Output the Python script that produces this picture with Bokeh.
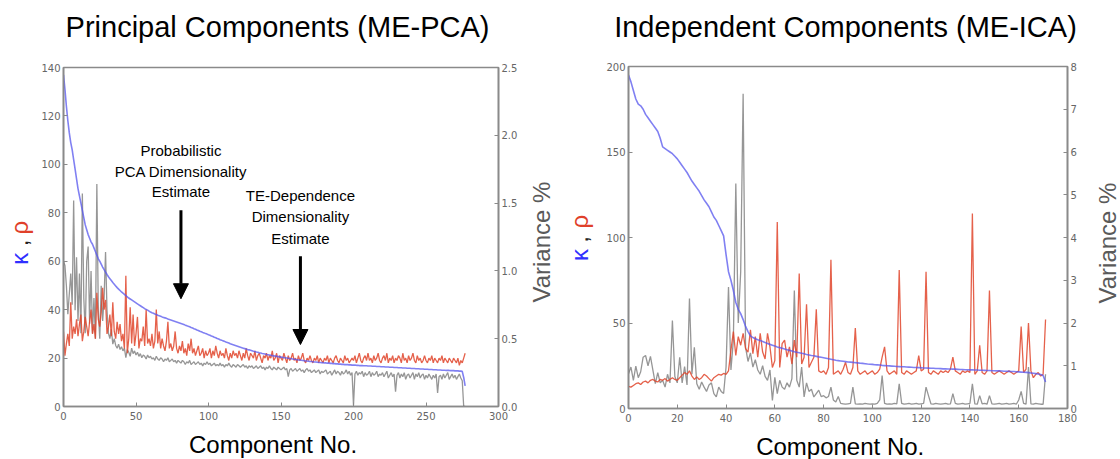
import math
from bokeh.plotting import figure
from bokeh.models import Range1d, LinearAxis, FixedTicker, Label, Arrow, NormalHead, PrintfTickFormatter
from bokeh.layouts import row, column
from bokeh.embed import file_html
from bokeh.resources import INLINE

# ---------------- data: ME-PCA (left panel) ----------------
pca_kappa = [
    137, 131, 124, 118, 113, 109, 106, 102, 98, 94,
    90, 87, 84, 81, 78, 75, 73, 71, 69.5, 68,
    67, 65.5, 64, 62.5, 61, 60, 58.8, 57.6, 56.5, 55.5,
    54.5, 53.6, 52.8, 52, 51.2, 50.5, 49.8, 49.1, 48.5, 47.9,
    47.3, 46.8, 46.3, 45.8, 45.3, 44.8, 44.4, 44, 43.6, 43.2,
    42.8, 42.4, 42, 41.6, 41.2, 40.8, 40.4, 40.1, 39.8, 39.4,
    39, 38.7, 38.5, 38.2, 38, 37.7, 37.5, 37.3, 37, 36.8,
    36.6, 36.4, 36.1, 35.9, 35.7, 35.5, 35.3, 35.1, 34.9, 34.7,
    34.5, 34.3, 34.1, 33.9, 33.6, 33.4, 33.1, 32.9, 32.6, 32.4,
    32.1, 31.9, 31.6, 31.4, 31.1, 30.9, 30.6, 30.4, 30.1, 29.9,
    29.6, 29.4, 29.1, 28.9, 28.6, 28.4, 28.1, 27.9, 27.6, 27.4,
    27.1, 26.9, 26.6, 26.4, 26.2, 25.9, 25.7, 25.5, 25.3, 25.1,
    24.9, 24.7, 24.5, 24.3, 24.1, 23.9, 23.7, 23.5, 23.4, 23.2,
    23, 22.8, 22.7, 22.5, 22.4, 22.2, 22.1, 21.9, 21.8, 21.7,
    21.5, 21.4, 21.3, 21.2, 21, 20.9, 20.8, 20.7, 20.6, 20.5,
    20.4, 20.3, 20.2, 20.1, 20, 19.9, 19.8, 19.7, 19.6, 19.5,
    19.4, 19.3, 19.2, 19.2, 19.1, 19, 18.9, 18.8, 18.8, 18.7,
    18.6, 18.6, 18.5, 18.4, 18.4, 18.3, 18.2, 18.2, 18.1, 18.1,
    18, 18, 17.9, 17.9, 17.8, 17.8, 17.7, 17.7, 17.6, 17.6,
    17.5, 17.5, 17.4, 17.4, 17.3, 17.3, 17.3, 17.2, 17.2, 17.1,
    17.1, 17.1, 17, 17, 16.9, 16.9, 16.9, 16.8, 16.8, 16.8,
    16.7, 16.7, 16.7, 16.6, 16.6, 16.6, 16.5, 16.5, 16.5, 16.4,
    16.4, 16.4, 16.3, 16.3, 16.3, 16.2, 16.2, 16.2, 16.1, 16.1,
    16.1, 16, 16, 16, 15.9, 15.9, 15.9, 15.8, 15.8, 15.8,
    15.7, 15.7, 15.7, 15.6, 15.6, 15.6, 15.5, 15.5, 15.5, 15.4,
    15.4, 15.4, 15.3, 15.3, 15.3, 15.2, 15.2, 15.2, 15.1, 15.1,
    15.1, 15, 15, 15, 14.9, 14.9, 14.9, 14.8, 14.8, 14.8,
    14.7, 14.7, 14.7, 14.6, 14.6, 14.5, 12, 8.5,
]
pca_rho = [
    31, 21, 26, 30, 25, 43, 28, 33, 30, 36,
    29, 34, 38, 27, 31, 37, 33, 29, 35, 40,
    30, 34, 28, 47, 36, 33, 39, 49, 40, 44,
    30, 33, 38, 29, 43, 31, 28, 35, 30, 34,
    27, 30, 24, 54, 22, 28, 41, 26, 38, 25,
    30, 37, 24, 28, 27, 33, 25, 40, 26, 28,
    25, 30, 24, 27, 40, 26, 31, 24, 28, 25,
    23, 27, 35, 24, 26, 23, 25, 31, 24, 22,
    25, 23, 27, 22, 24, 21, 26, 23, 28, 22,
    24, 21, 23, 25, 21, 22, 24, 20, 23, 21,
    22, 24, 20, 23, 21, 25, 22, 20, 23, 21,
    22, 20, 24, 21, 19, 22, 20, 23, 21, 22,
    20, 23, 21, 19, 22, 20, 24, 21, 19, 22,
    21, 20, 23, 19, 21, 22, 20, 18, 21, 20,
    22, 19, 21, 20, 23, 19, 20, 22, 18, 21,
    20, 19, 22, 20, 18, 21, 19, 20, 22, 19,
    20, 18, 21, 19, 20, 22, 19, 18, 20, 19,
    21, 19, 18, 20, 19, 21, 18, 20, 19, 18,
    20, 19, 21, 18, 20, 19, 18, 20, 21, 19,
    18, 20, 19, 18, 21, 19, 20, 18, 19, 20,
    19, 21, 18, 20, 22, 19, 18, 20, 21, 19,
    22, 19, 20, 18, 21, 19, 20, 22, 19, 18,
    20, 21, 19, 22, 18, 20, 19, 21, 18, 20,
    19, 21, 20, 18, 22, 19, 20, 18, 21, 19,
    20, 22, 19, 18, 21, 19, 20, 18, 19, 21,
    19, 18, 20, 19, 21, 18, 20, 19, 18, 20,
    19, 21, 18, 20, 19, 18, 20, 19, 18, 20,
    19, 18, 20, 17, 19, 18, 20, 22,
]
pca_variance = [
    1.07, 1.04, 0.89, 0.68, 0.83, 0.98, 0.75, 1.52, 0.71, 1.1,
    0.63, 0.98, 0.54, 1.57, 0.8, 0.54, 1.07, 1.18, 0.61, 1.0,
    0.54, 0.8, 0.5, 1.64, 0.71, 0.5, 0.89, 0.63, 0.8, 1.14,
    0.71, 0.54, 0.5, 0.57, 0.46, 0.5, 0.45, 0.43, 0.46, 0.42,
    0.44, 0.41, 0.43, 0.36, 0.42, 0.4, 0.37, 0.43, 0.39, 0.41,
    0.38, 0.4, 0.37, 0.39, 0.36, 0.38, 0.37, 0.35, 0.38, 0.36,
    0.37, 0.35, 0.36, 0.34, 0.37, 0.35, 0.34, 0.36, 0.35, 0.33,
    0.35, 0.34, 0.36, 0.33, 0.34, 0.35, 0.33, 0.34, 0.32, 0.34,
    0.33, 0.32, 0.34, 0.33, 0.31, 0.33, 0.32, 0.34, 0.31, 0.32,
    0.33, 0.31, 0.32, 0.33, 0.31, 0.32, 0.3, 0.32, 0.31, 0.33,
    0.31, 0.32, 0.3, 0.31, 0.32, 0.3, 0.31, 0.3, 0.32, 0.3,
    0.31, 0.29, 0.31, 0.3, 0.32, 0.3, 0.29, 0.31, 0.3, 0.29,
    0.31, 0.3, 0.29, 0.3, 0.31, 0.29, 0.3, 0.28, 0.3, 0.29,
    0.3, 0.28, 0.29, 0.3, 0.28, 0.29, 0.3, 0.28, 0.29, 0.27,
    0.29, 0.28, 0.3, 0.28, 0.27, 0.29, 0.28, 0.27, 0.29, 0.28,
    0.27, 0.28, 0.29, 0.27, 0.28, 0.22, 0.27, 0.28, 0.26, 0.27,
    0.28, 0.26, 0.27, 0.28, 0.26, 0.27, 0.25, 0.27, 0.28, 0.26,
    0.27, 0.25, 0.26, 0.27, 0.25, 0.26, 0.27, 0.24, 0.26, 0.25,
    0.26, 0.27, 0.24, 0.25, 0.26, 0.23, 0.25, 0.27, 0.24, 0.26,
    0.25, 0.23, 0.26, 0.24, 0.25, 0.27, 0.24, 0.26, 0.23, 0.25,
    0.01, 0.24, 0.26, 0.23, 0.25, 0.24, 0.26, 0.22, 0.25, 0.23,
    0.24, 0.26, 0.22, 0.25, 0.23, 0.24, 0.26, 0.22, 0.24, 0.23,
    0.25, 0.22, 0.24, 0.26, 0.21, 0.23, 0.25, 0.22, 0.24, 0.11,
    0.23, 0.25, 0.21, 0.24, 0.22, 0.25, 0.2, 0.23, 0.24, 0.21,
    0.23, 0.25, 0.2, 0.24, 0.22, 0.25, 0.21, 0.23, 0.24, 0.2,
    0.23, 0.21, 0.24, 0.22, 0.2, 0.23, 0.21, 0.24, 0.1, 0.22,
    0.23, 0.2, 0.24, 0.21, 0.23, 0.25, 0.2, 0.22, 0.24, 0.21,
    0.23, 0.2, 0.22, 0.24, 0.21, 0.19, 0.0, 0.0,
]

# ---------------- data: ME-ICA (right panel) ----------------
ica_kappa = [
    195, 191, 186, 181, 178, 177, 175, 172, 170, 168,
    166, 164, 162, 158, 153, 152, 151, 150, 149, 147.5,
    146, 144, 142, 140, 138, 135.5, 133, 131, 129, 127,
    124.5, 122, 120, 118, 115, 112, 110, 107, 104, 101,
    90, 80, 75, 69, 62, 58, 55.5, 52, 48, 45,
    42.5, 41.5, 40.8, 40.2, 39.8, 39.2, 38.6, 38, 37.5, 37,
    36.5, 36, 35.6, 35.2, 34.8, 34.4, 34, 33.6, 33.2, 32.9,
    32.6, 32.3, 32, 31.6, 31.3, 31, 30.8, 30.5, 30.2, 30,
    29.7, 29.4, 29.1, 28.8, 28.5, 28.2, 28, 27.8, 27.6, 27.4,
    27.2, 27.1, 27, 26.8, 26.7, 26.5, 26.4, 26.2, 26, 25.9,
    25.8, 25.6, 25.5, 25.4, 25.2, 25.1, 25, 24.9, 24.8, 24.7,
    24.6, 24.5, 24.4, 24.4, 24.3, 24.2, 24.1, 24, 24, 23.9,
    23.8, 23.7, 23.7, 23.6, 23.5, 23.5, 23.4, 23.4, 23.3, 23.2,
    23.2, 23.1, 23.1, 23, 23, 22.9, 22.8, 22.8, 22.7, 22.7,
    22.6, 22.6, 22.5, 22.5, 22.4, 22.4, 22.3, 22.2, 22.2, 22.1,
    22.1, 22, 22, 21.9, 21.8, 21.8, 21.7, 21.6, 21.6, 21.5,
    21.4, 21.3, 21.2, 21.1, 21, 20.8, 20.6, 20.4, 20.2, 19.9,
    19.3, 15.5,
]
ica_rho = [
    13, 12.5, 13.5, 14.5, 15, 14, 15.5, 16, 15, 16.5,
    17, 16, 15.5, 17, 16.5, 17.5, 16, 17, 18, 17,
    16.5, 18, 19.5, 21, 20, 22, 19, 17, 18.5, 17,
    18, 20, 19, 17.5, 16, 18, 19, 20, 19.5, 20.5,
    20, 22, 34, 45, 31, 42, 37, 44, 35, 33,
    46, 32, 42, 30, 44, 33, 29, 44, 36, 24,
    28, 109, 24, 38, 40, 30, 36, 26, 40, 30,
    79, 26, 30, 61, 24, 27, 30, 58, 22, 21,
    22, 20, 24, 87, 20, 21, 22, 20, 23, 27,
    21, 20, 24, 47, 22, 20, 21, 22, 20, 21,
    22, 20, 21, 23, 30, 36, 22, 20, 21, 22,
    20, 81, 21, 20, 22, 21, 20, 21, 22, 31,
    22, 23, 80, 21, 20, 22, 21, 20, 22, 21,
    22, 21, 23, 30, 22, 21, 20, 22, 21, 22,
    21, 114, 20, 22, 37, 21, 20, 22, 69, 21,
    20, 21, 22, 21, 20, 21, 22, 21, 20, 21,
    22, 48, 21, 23, 50, 22, 18, 20, 21, 19,
    20, 52,
]
ica_variance = [
    0.81, 0.97, 0.66, 0.99, 0.72, 0.86, 1.2, 1.24, 1.0, 1.22,
    0.9, 0.58, 0.84, 0.6, 0.66, 0.5, 0.8, 0.6, 2.06, 0.75,
    0.6, 1.2, 0.6, 0.98, 0.55, 2.57, 0.8, 1.43, 0.58, 0.45,
    0.62, 0.5, 0.4, 0.55, 0.6, 0.35, 0.27, 0.5, 0.4, 0.35,
    0.97, 2.84, 0.9, 1.6, 5.26, 2.0, 3.2, 7.36, 1.43, 1.1,
    1.3, 0.97, 1.14, 0.9, 0.8, 1.0, 0.75, 0.66, 0.9, 0.19,
    0.73, 0.35, 0.66, 0.5, 0.45, 0.6, 0.5, 0.7, 2.76, 0.66,
    0.5, 0.97, 0.27, 0.6, 0.4, 0.45, 0.27, 0.35, 0.43, 0.28,
    0.3, 0.25, 0.28, 0.5, 0.2, 0.15, 0.28, 0.12, 0.11, 0.1,
    0.11, 0.12, 0.5, 0.11, 0.1, 0.11, 0.1, 0.12, 0.11, 0.1,
    0.11, 0.1, 0.12, 0.2, 0.77, 0.12, 0.1, 0.11, 0.1, 0.12,
    0.11, 0.58, 0.12, 0.1, 0.11, 0.12, 0.1, 0.11, 0.12, 0.1,
    0.11, 0.12, 0.5, 0.3, 0.11, 0.1, 0.12, 0.11, 0.1, 0.11,
    0.12, 0.1, 0.11, 0.35, 0.12, 0.1, 0.11, 0.12, 0.1, 0.11,
    0.12, 0.58, 0.11, 0.1, 0.3, 0.11, 0.12, 0.1, 0.3, 0.11,
    0.1, 0.11, 0.12, 0.1, 0.11, 0.12, 0.1, 0.11, 0.12, 0.1,
    0.2, 0.4, 0.12, 0.1, 0.97, 0.11, 0.1, 0.12, 0.11, 0.1,
    0.1, 0.8,
]

pca_component = list(range(len(pca_kappa)))
ica_component = list(range(len(ica_kappa)))

# tick values
pca_xticks = [0, 50, 100, 150, 200, 250, 300]
pca_yticks = [0, 20, 40, 60, 80, 100, 120, 140]
pca_vticks = [0.0, 0.5, 1.0, 1.5, 2.0, 2.5]
ica_xticks = [0, 20, 40, 60, 80, 100, 120, 140, 160, 180]
ica_yticks = [0, 50, 100, 150, 200]
ica_vticks = [0, 1, 2, 3, 4, 5, 6, 7, 8]

FONT = "Liberation Sans"
TICK_FONT = "DejaVu Sans"
AX_COLOR = "#8a8a8a"
BLUE = "#5555ee"
RED = "#e0452c"
GRAY = "#505050"
KAPPA_C = "#3030ff"
RHO_C = "#e0402a"
VAR_C = "#5a5a5a"


def style_axis(ax, ticks, fmt=None, standoff=3):
    ax.ticker = FixedTicker(ticks=ticks)
    ax.axis_line_color = AX_COLOR
    ax.axis_line_width = 1.6
    ax.major_tick_line_color = AX_COLOR
    ax.major_tick_in = 4
    ax.major_tick_out = 0
    ax.minor_tick_line_color = None
    ax.major_label_text_font = TICK_FONT
    ax.major_label_text_font_size = "10px"
    ax.major_label_text_color = "#666666"
    ax.major_label_standoff = standoff
    if fmt:
        ax.formatter = PrintfTickFormatter(format=fmt)


def make_panel(width, height, xr, yr, vr, borders, xticks, yticks, vticks, vfmt,
               comp, kappa, rho, var):
    bl, br, bt, bb = borders
    p = figure(width=width, height=height, x_range=Range1d(*xr), y_range=Range1d(*yr),
               output_backend="svg", toolbar_location=None,
               min_border_left=bl, min_border_right=br,
               min_border_top=bt, min_border_bottom=bb)
    p.title.visible = False
    p.grid.visible = False
    p.outline_line_color = AX_COLOR
    p.outline_line_width = 1.6
    p.background_fill_color = "white"
    p.border_fill_color = "white"
    p.extra_y_ranges = {"var": Range1d(*vr)}
    style_axis(p.xaxis[0], xticks, standoff=5)
    style_axis(p.yaxis[0], yticks)
    right = LinearAxis(y_range_name="var")
    style_axis(right, vticks, fmt=vfmt)
    p.add_layout(right, "right")

    p.line(comp, var, y_range_name="var", line_color=GRAY, line_width=1.3, line_alpha=0.6)
    p.line(comp, rho, line_color=RED, line_width=1.3, line_alpha=0.85)
    p.line(comp, kappa, line_color=BLUE, line_width=1.6, line_alpha=0.75)
    return p


def text_fig(width, height):
    """A blank figure whose data space equals its pixel space (y downward)."""
    f = figure(width=width, height=height, x_range=Range1d(0, width),
               y_range=Range1d(height, 0), x_axis_type=None, y_axis_type=None,
               output_backend="svg", toolbar_location=None,
               min_border=0, min_border_left=0, min_border_right=0,
               min_border_top=0, min_border_bottom=0)
    f.title.visible = False
    f.grid.visible = False
    f.outline_line_color = None
    f.background_fill_color = "white"
    f.border_fill_color = "white"
    return f


def text(p, x, y, s, size, color="black", angle=0.0, align="center", baseline="middle"):
    p.add_layout(Label(x=x, y=y, text=s, text_font=FONT, text_font_size=size,
                       text_color=color, angle=angle, text_align=align,
                       text_baseline=baseline))


UP = math.pi / 2

# ---------------- left panel (page x 0..560) ----------------
p1 = make_panel(482, 367, (0, 300), (0, 140), (0, 2.5), (25, 22, 8, 20),
                pca_xticks, pca_yticks, pca_vticks, "%.1f",
                pca_component, pca_kappa, pca_rho, pca_variance)
for i, s in enumerate(["Probabilistic", "PCA Dimensionality", "Estimate"]):
    text(p1, 81, 105.7 - 8.5 * i, s, "15px")
for i, s in enumerate(["TE-Dependence", "Dimensionality", "Estimate"]):
    text(p1, 163.4, 87.2 - 8.9 * i, s, "15px")
for (ax_, ys, ye) in [(81, 81, 44.5), (163.4, 62, 25.6)]:
    p1.add_layout(Arrow(end=NormalHead(size=15, fill_color="black", line_color="black"),
                        x_start=ax_, y_start=ys, x_end=ax_, y_end=ye,
                        line_width=3, line_color="black"))

t1 = text_fig(560, 59)
text(t1, 277, 26, "Principal Components (ME-PCA)", "29px")
l1 = text_fig(38, 367)
text(l1, 18.6, 207, "\u03ba", "24px", color=KAPPA_C, angle=UP)
text(l1, 18.6, 190, ",", "24px", color="#222222", angle=UP)
text(l1, 18.6, 173.5, "\u03c1", "24px", color=RHO_C, angle=UP)
r1 = text_fig(40, 367)
text(r1, 20.6, 189, "Variance %", "24px", color=VAR_C, angle=UP)
b1 = text_fig(560, 33)
text(b1, 272.5, 18, "Component No.", "24px")

left = column(t1, row(l1, p1, r1), b1)

# ---------------- right panel (page x 560..1120) ----------------
p2 = make_panel(479, 370, (0, 180), (0, 200), (0, 8), (25, 15, 8, 20),
                ica_xticks, ica_yticks, ica_vticks, "%d",
                ica_component, ica_kappa, ica_rho, ica_variance)
t2 = text_fig(560, 58)
text(t2, 285, 26, "Independent Components (ME-ICA)", "29px")
l2 = text_fig(43, 370)
text(l2, 18.6, 204, "\u03ba", "24px", color=KAPPA_C, angle=UP)
text(l2, 18.6, 187, ",", "24px", color="#222222", angle=UP)
text(l2, 18.6, 168, "\u03c1", "24px", color=RHO_C, angle=UP)
r2 = text_fig(38, 370)
text(r2, 25, 191, "Variance %", "24px", color=VAR_C, angle=UP)
b2 = text_fig(560, 31)
text(b2, 279.7, 18, "Component No.", "24px")

right_panel = column(t2, row(l2, p2, r2), b2)

layout = row(left, right_panel)
open("out.html", "w").write(file_html(layout, INLINE))
